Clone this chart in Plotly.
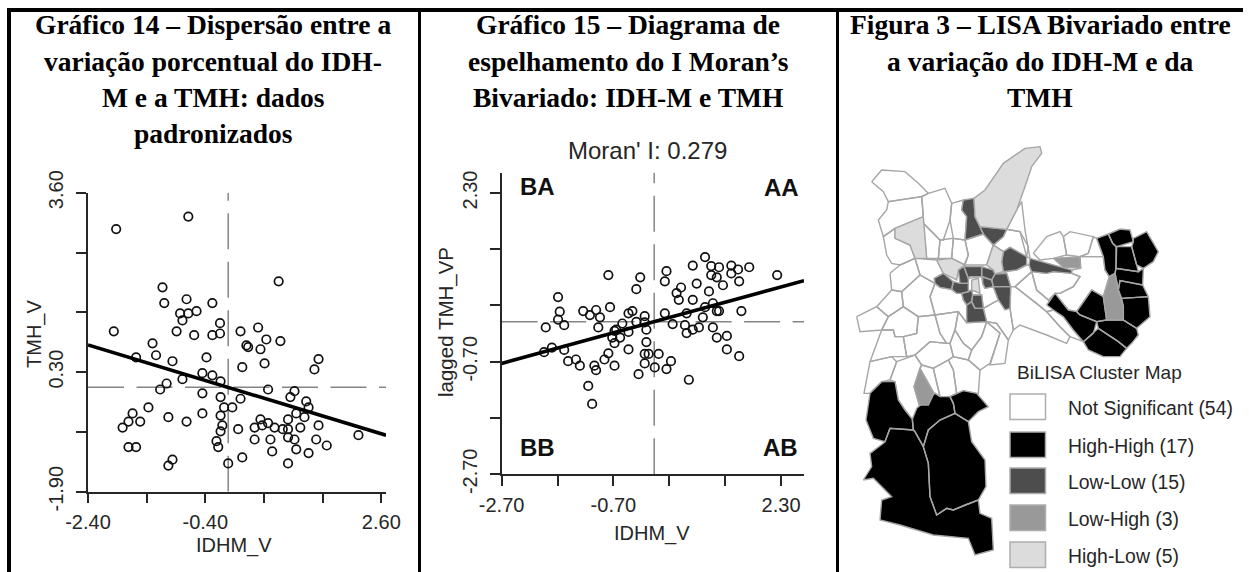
import plotly.graph_objects as go

W, H = 1249, 572

def xf(px):
    return px / W

def yf(py):
    return 1 - py / H

# ---- Gráfico 14 data ----
idhm_v = [-1.92,-0.69,0.85,-1.13,-1.10,-0.72,-0.28,-0.83,-0.69,-0.55,-0.79,-0.15,-1.96,-0.89,-0.59,-0.28,-0.15,0.20,0.50,-1.30,
          0.64,0.88,0.30,0.33,0.54,-1.24,-1.58,-0.38,-0.96,1.53,0.61,0.23,1.46,-0.45,-0.28,-0.79,-0.14,-1.06,-1.17,0.67,
          1.12,-0.45,1.05,-0.14,0.20,1.32,-1.37,-0.08,0.06,1.36,-1.64,-0.45,-0.14,1.15,-1.03,1.29,0.54,-1.71,-1.51,-0.72,
          1.01,0.67,-1.81,-0.11,1.53,0.44,0.57,0.78,1.22,0.16,0.92,1.01,-0.14,2.21,0.44,0.71,1.01,1.12,1.49,-0.21,
          1.67,-1.71,-1.58,-0.18,1.15,0.74,1.36,-0.96,0.23,-1.03,-0.01,1.01]
tmh_v = [2.93,3.16,1.97,1.86,1.57,1.64,1.57,1.38,1.38,1.42,1.25,1.20,1.05,1.05,0.98,0.98,1.01,1.05,1.12,0.83,
         0.90,0.87,0.79,0.76,0.72,0.61,0.57,0.57,0.50,0.54,0.46,0.39,0.35,0.28,0.24,0.17,0.13,0.09,-0.02,-0.02,
         -0.05,-0.09,-0.16,-0.16,-0.19,-0.24,-0.35,-0.35,-0.35,-0.35,-0.46,-0.46,-0.50,-0.46,-0.53,-0.53,-0.57,-0.61,-0.61,-0.61,
         -0.57,-0.64,-0.72,-0.68,-0.68,-0.72,-0.68,-0.72,-0.72,-0.75,-0.75,-0.75,-0.79,-0.86,-0.94,-0.94,-0.90,-0.94,-0.94,-0.97,
         -1.05,-1.08,-1.08,-1.08,-1.12,-1.16,-1.19,-1.31,-1.27,-1.42,-1.38,-1.38]
fit1_x = [-2.40, 2.68]
fit1_y = [0.80, -0.86]
mean1_x = -0.01
mean1_y = 0.02
x1_ticks = [-2.4, -1.4, -0.4, 0.6, 1.6, 2.6]
x1_labels = ["-2.40", "", "-0.40", "", "", "2.60"]
y1_ticks = [-1.9, -0.8, 0.3, 1.4, 2.5, 3.6]
y1_labels = ["-1.90", "", "0.30", "", "", "3.60"]

# ---- Gráfico 15 data ----
idhm_v2 = [0.94,0.72,1.05,1.19,1.41,1.53,1.73,2.23,0.25,1.05,1.15,1.41,1.26,1.55,0.79,0.22,0.51,-0.22,-0.79,-0.29,
           0.43,1.01,-1.69,0.47,0.72,1.08,-0.76,0.94,-1.01,1.15,1.19,1.59,-1.24,-1.66,-0.36,-0.43,-1.12,0.22,0.61,-0.14,
           -0.94,-1.69,0.90,-0.54,-0.14,0.36,-1.58,-1.91,-0.97,0.58,1.08,0.83,0.72,0.61,-0.11,-0.68,-0.43,-0.58,1.33,1.15,
           -0.72,-0.11,-0.68,-0.43,-1.58,-1.80,-1.94,1.33,-0.79,-0.14,-0.07,0.11,1.55,-0.86,-1.51,-1.37,0.33,-0.14,-1.30,-1.04,
           -0.68,-1.01,0.04,0.25,-0.25,0.65,-1.15,-1.08,-0.29,-0.65]
lag_tmh = [1.16,1.01,1.00,0.98,1.01,0.94,0.98,0.84,0.91,0.84,0.80,0.87,0.66,0.73,0.69,0.73,0.62,0.80,0.84,0.59,
           0.52,0.55,0.45,0.40,0.40,0.34,0.27,0.27,0.22,0.20,0.20,0.20,0.20,0.19,0.20,0.16,0.13,0.16,0.16,0.11,
           0.09,0.05,0.09,-0.02,0.00,-0.03,-0.05,-0.09,-0.09,-0.05,-0.09,-0.09,-0.13,-0.19,-0.13,-0.15,-0.17,-0.27,-0.24,-0.27,
           -0.27,-0.35,-0.37,-0.48,-0.49,-0.45,-0.53,-0.48,-0.55,-0.56,-0.56,-0.56,-0.60,-0.66,-0.69,-0.66,-0.69,-0.73,-0.77,-0.77,
           -0.77,-0.85,-0.80,-0.83,-0.92,-1.02,-1.13,-1.45,0.01,-0.13]
fit2_x = [-2.70, 2.71]
fit2_y = [-0.73, 0.74]
mean2_x = 0.03
mean2_y = 0.01
x2_ticks = [-2.7, -1.7, -0.7, 0.3, 1.3, 2.3]
x2_labels = ["-2.70", "", "-0.70", "", "", "2.30"]
y2_ticks = [-2.7, -1.7, -0.7, 0.3, 1.3, 2.3]
y2_labels = ["-2.70", "", "-0.70", "", "", "2.30"]

# ---- Figura 3: municipality outlines, map units ----
not_significant = [
    [(95,155),(125,120),(195,125),(235,160),(265,190),(245,200),(145,215),(130,185)],
    [(145,215),(245,200),(250,260),(165,295),(130,320),(115,270),(140,240)],
    [(245,200),(265,190),(315,175),(335,220),(330,270),(310,330),(300,330),(250,280),(250,260)],
    [(335,220),(370,210),(365,240),(380,260),(375,330),(340,325),(330,270)],
    [(130,320),(165,295),(165,325),(210,345),(225,385),(180,405),(155,400),(140,375)],
    [(250,280),(300,330),(295,385),(260,385)],
    [(300,330),(340,325),(335,385),(295,385)],
    [(340,325),(375,330),(385,375),(375,405),(335,385)],
    [(375,330),(430,312),(460,345),(440,405),(372,405),(385,375)],
    [(490,320),(500,298),(540,305),(565,350),(560,380),(510,352),(490,365),(460,345)],
    [(530,240),(545,215),(555,300),(570,385),(560,380),(540,305),(500,298)],
    [(225,385),(290,390),(310,430),(283,445),(285,460),(240,435)],
    [(150,430),(180,405),(225,385),(240,435),(185,485),(155,480)],
    [(110,530),(155,480),(185,485),(190,530),(145,560)],
    [(50,560),(110,530),(145,560),(135,580),(125,600),(60,605)],
    [(185,485),(240,435),(285,460),(270,500),(285,555),(235,560),(190,530)],
    [(135,580),(145,560),(190,530),(235,560),(230,610),(190,620),(165,620),(160,600),(125,600)],
    [(285,460),(300,472),(335,478),(350,490),(365,490),(370,510),(380,525),(380,578),(355,545),(285,555),(270,500)],
    [(90,695),(125,600),(160,600),(165,620),(190,620),(200,680),(155,680)],
    [(90,695),(155,680),(170,695),(150,750),(125,755),(90,790),(72,790)],
    [(200,680),(190,620),(230,610),(235,560),(285,555),(300,610),(320,640),(270,635),(225,675)],
    [(285,555),(355,545),(345,600),(330,640),(320,640),(300,610)],
    [(355,545),(380,578),(440,575),(425,620),(395,660),(370,640),(345,600)],
    [(330,640),(345,600),(370,640),(395,660),(385,690),(340,680)],
    [(225,675),(270,635),(320,640),(330,640),(340,680),(325,690),(280,715),(245,705)],
    [(170,695),(225,675),(245,705),(240,715),(222,770),(238,825),(217,868),(195,840),(175,810),(165,755),(150,750)],
    [(245,705),(280,715),(300,800),(285,790),(265,825),(282,790),(240,715)],
    [(280,715),(325,690),(340,720),(350,790),(330,800),(300,800)],
    [(325,690),(340,680),(385,690),(420,720),(415,790),(410,790),(370,782),(330,800),(350,790),(340,720)],
    [(385,690),(395,660),(425,620),(440,575),(480,610),(450,700),(420,720)],
    [(440,575),(470,580),(505,630),(495,700),(450,705),(480,610)],
    [(430,535),(475,510),(510,535),(520,600),(505,630),(470,580),(440,575)],
    [(385,445),(425,440),(428,460),(435,475),(460,470),(475,510),(430,535),(425,495),(398,495),(395,480),(385,485),(385,460)],
    [(490,425),(530,420),(560,405),(567,405),(575,425),(525,470),(512,470),(500,430)],
    [(525,470),(575,425),(590,480),(625,510),(640,540),(620,545),(590,520)],
    [(575,425),(620,430),(640,425),(695,430),(720,440),(700,470),(660,490),(645,490),(625,510),(590,480)],
    [(510,535),(512,470),(525,470),(590,520),(620,545),(660,590),(690,620),(680,640),(620,615),(540,585),(520,600)],
    [(620,545),(640,540),(670,560),(700,600),(730,635),(690,620),(660,590)],
    [(580,370),(620,320),(660,305),(670,320),(680,375),(640,385),(600,390)],
    [(670,320),(690,305),(760,320),(745,370),(720,380),(680,375)],
    [(745,370),(760,320),(770,325),(790,380),(720,380)],
    [(722,415),(720,380),(790,380),(795,420),(808,440),(790,500),(755,480),(710,545),(685,540),(645,490),(660,490),(700,470),(720,440),(695,430),(695,420)],
]
high_high = [
    [(770,325),(805,312),(818,340),(828,350),(828,415),(825,430),(808,440),(795,420),(790,380)],
    [(805,312),(840,297),(870,300),(880,335),(830,350),(818,340)],
    [(880,335),(880,325),(920,305),(935,330),(955,365),(940,395),(910,415),(890,405),(875,350)],
    [(830,350),(875,350),(890,405),(895,425),(828,415)],
    [(825,430),(828,415),(895,425),(910,415),(908,465),(840,452),(835,480)],
    [(835,480),(840,452),(908,465),(925,500),(845,505)],
    [(845,505),(925,500),(930,560),(890,595),(850,570),(850,530)],
    [(710,545),(755,480),(790,500),(800,570),(770,575),(720,555)],
    [(620,525),(645,490),(685,540),(710,545),(720,555),(770,575),(760,610),(730,635),(700,600),(670,560),(640,540)],
    [(770,575),(800,570),(850,570),(890,595),(895,615),(875,640),(860,655),(835,635),(775,595)],
    [(730,635),(760,610),(775,595),(835,635),(860,655),(840,680),(790,680),(745,660)],
    [(90,790),(125,755),(165,755),(175,810),(195,840),(217,868),(220,900),(150,895),(135,935),(100,925),(78,870),(85,820)],
    [(217,868),(230,835),(285,790),(300,800),(330,800),(340,820),(345,850),(300,870),(265,900),(250,950),(225,905),(220,900)],
    [(330,800),(370,782),(410,790),(445,830),(415,845),(385,875),(345,850),(340,820)],
    [(345,850),(385,875),(395,935),(435,990),(438,1070),(415,1110),(375,1125),(340,1140),(320,1135),(290,1155),(270,1100),(265,1000),(250,950),(265,900),(300,870)],
    [(150,895),(220,900),(225,905),(250,950),(265,1000),(270,1100),(290,1155),(320,1135),(340,1140),(375,1125),(415,1110),(420,1150),(455,1165),(460,1260),(405,1275),(385,1225),(280,1215),(180,1185),(120,1170),(125,1110),(155,1100),(100,1045),(70,1050),(95,1010),(90,970),(130,940),(135,935)],
]
low_low = [
    [(370,210),(402,205),(405,260),(420,290),(430,312),(375,330),(380,260),(365,240)],
    [(420,290),(500,298),(490,320),(460,345),(430,312)],
    [(490,365),(510,352),(560,380),(560,405),(530,420),(490,425),(485,395)],
    [(570,385),(640,405),(695,420),(695,430),(640,425),(620,430),(575,425),(567,405)],
    [(283,445),(310,430),(340,455),(335,478),(300,472),(285,460)],
    [(335,478),(340,455),(360,460),(385,460),(385,485),(365,490),(350,490)],
    [(355,420),(372,410),(385,445),(385,460),(360,460)],
    [(372,410),(425,410),(425,440),(390,440),(385,445)],
    [(425,410),(460,420),(465,432),(455,450),(425,440)],
    [(428,440),(455,450),(460,470),(435,475),(428,460)],
    [(465,432),(500,430),(512,470),(460,470),(455,450)],
    [(460,470),(512,470),(510,535),(495,540),(475,510)],
    [(365,490),(385,485),(395,480),(398,495),(395,515),(380,525),(370,510)],
    [(398,495),(425,495),(430,535),(405,535),(395,515)],
    [(380,525),(395,515),(405,535),(430,535),(440,575),(380,578)],
]
low_high = [
    [(640,385),(720,380),(722,415),(670,412)],
    [(808,440),(825,430),(835,480),(850,530),(850,570),(800,570),(790,500)],
    [(222,770),(240,715),(282,790),(265,825),(238,825)],
]
high_low = [
    [(555,55),(600,50),(605,70),(575,110),(555,170),(530,240),(500,298),(420,290),(405,260),(402,205),(435,180),(470,130),(490,100)],
    [(165,295),(250,260),(260,385),(225,385),(210,345),(165,325)],
    [(290,390),(335,385),(375,405),(355,420),(350,450),(310,430)],
    [(440,405),(460,345),(490,365),(485,395),(490,425),(465,432),(460,420)],
    [(395,450),(415,445),(420,490),(395,480)],
]
map_classes = [
    ("Not Significant (54)", not_significant, "#ffffff"),
    ("High-High (17)", high_high, "#000000"),
    ("Low-Low (15)", low_low, "#4d4d4d"),
    ("Low-High (3)", low_high, "#999999"),
    ("High-Low (5)", high_low, "#dcdcdc"),
]

# ---- page text ----
title_lines_1 = ["Gráfico 14 – Dispersão entre a", "variação porcentual do IDH-", "M e a TMH: dados", "padronizados"]
title_lines_2 = ["Gráfico 15 – Diagrama de", "espelhamento do I Moran’s", "Bivariado: IDH-M e TMH"]
title_lines_3 = ["Figura 3 – LISA Bivariado entre", "a variação do IDH-M e da", "TMH"]
title_line_y = [24, 61, 97, 133]

INK = "#262626"
SANS = "Liberation Sans, Arial, sans-serif"
SERIF = "Liberation Serif, serif"

fig = go.Figure()

def scatter_panel(xs, ys, fx, fy, mx, my, xa, ya, x_lo, x_hi, y_lo, y_hi):
    grey = dict(color="#858585", width=1.5, dash="36px,12.5px")
    fig.add_trace(go.Scatter(x=[x_lo, x_hi], y=[my, my], mode="lines", line=grey, xaxis=xa, yaxis=ya, hoverinfo="skip"))
    fig.add_trace(go.Scatter(x=[mx, mx], y=[y_lo, y_hi], mode="lines", line=grey, xaxis=xa, yaxis=ya, hoverinfo="skip"))
    fig.add_trace(go.Scatter(x=xs, y=ys, mode="markers", xaxis=xa, yaxis=ya,
                             marker=dict(symbol="circle-open", size=8.5, color="#111111", line=dict(width=1.7, color="#111111"))))
    fig.add_trace(go.Scatter(x=fx, y=fy, mode="lines", line=dict(color="#000000", width=3.6), xaxis=xa, yaxis=ya, hoverinfo="skip"))

X1_LO, X1_HI, Y1_LO, Y1_HI = -2.40, 2.68, -1.90, 3.60
X2_LO, X2_HI, Y2_LO, Y2_HI = -2.70, 2.71, -2.70, 2.66
scatter_panel(idhm_v, tmh_v, fit1_x, fit1_y, mean1_x, mean1_y, "x", "y", X1_LO, X1_HI, Y1_LO, Y1_HI)
scatter_panel(idhm_v2, lag_tmh, fit2_x, fit2_y, mean2_x, mean2_y, "x2", "y2", X2_LO, X2_HI, Y2_LO, Y2_HI)

for name, polys, colour in map_classes:
    xs, ys = [], []
    for poly in polys:
        xs += [p[0] for p in poly] + [poly[0][0], None]
        ys += [p[1] for p in poly] + [poly[0][1], None]
    fig.add_trace(go.Scatter(x=xs, y=ys, mode="lines", fill="toself", fillcolor=colour, name=name,
                             line=dict(color="#a6a6a6", width=1.4), xaxis="x3", yaxis="y3", hoverinfo="skip"))

def axis(ticks, labels, rng, domain, anchor, angle=0, standoff=0):
    return dict(range=rng, domain=domain, anchor=anchor, tickmode="array", tickvals=ticks, ticktext=labels,
                ticks="outside", ticklen=10, tickwidth=1.5, tickcolor=INK, showline=True, linecolor=INK, linewidth=1.5,
                showgrid=False, zeroline=False, tickangle=angle, tickfont=dict(family=SANS, size=20, color=INK),
                ticklabelstandoff=standoff, automargin=False)

shapes = []
def block(x0, y0, x1, y1, fill="#000000", line=None):
    shapes.append(dict(type="rect", xref="paper", yref="paper", x0=xf(x0), x1=xf(x1), y0=yf(y0), y1=yf(y1),
                       fillcolor=fill, line=dict(width=1.5 if line else 0, color=line or fill)))

block(7, 8, 1243, 12)
block(7, 8, 11, 572)
block(418, 8, 421, 572)
block(836, 8, 839, 572)

legend_boxes = [(394, "#ffffff"), (432, "#000000"), (468, "#4d4d4d"), (505, "#999999"), (542, "#dcdcdc")]
legend_rows = [408, 446, 482, 519, 556]
for top, colour in legend_boxes:
    block(1010, top, 1045.5, top + 25.5, colour, "#adadad")

annotations = []
def note(text, px, py, size, colour=INK, family=SANS, angle=0, anchor="center"):
    annotations.append(dict(text=text, x=xf(px), y=yf(py), xref="paper", yref="paper", showarrow=False,
                            xanchor=anchor, yanchor="middle", textangle=angle,
                            font=dict(family=family, size=size, color=colour)))

for cx, lines in ((213, title_lines_1), (628, title_lines_2), (1040, title_lines_3)):
    for line, y in zip(lines, title_line_y):
        note("<b>%s</b>" % line, cx, y, 27.5, "#000000", SERIF)

note("IDHM_V", 234, 545, 20)
note("TMH_V", 34, 334, 20, angle=-90)
note("IDHM_V", 652, 533, 20)
note("lagged TMH_VP", 446, 322, 20.5, angle=-90)
note("Moran' I: 0.279", 647, 150, 24)
note("<b>BA</b>", 537, 187, 24, "#111111")
note("<b>AA</b>", 782, 188, 24, "#111111")
note("<b>BB</b>", 537, 447, 24, "#111111")
note("<b>AB</b>", 780, 447, 24, "#111111")
note("BiLISA Cluster Map", 1015, 372, 19, anchor="left")
for (name, _, _), y in zip(map_classes, legend_rows):
    note(name, 1066, y, 19.4, anchor="left")

fig.update_layout(
    width=W, height=H, margin=dict(l=0, r=0, t=0, b=0, autoexpand=False), showlegend=False,
    paper_bgcolor="#ffffff", plot_bgcolor="rgba(0,0,0,0)", shapes=shapes, annotations=annotations,
    xaxis=axis(x1_ticks, x1_labels, [X1_LO, X1_HI], [xf(88), xf(386)], "y", standoff=2),
    yaxis=axis(y1_ticks, y1_labels, [Y1_LO, Y1_HI], [yf(491.7), yf(192.7)], "x", angle=-90, standoff=5),
    xaxis2=axis(x2_ticks, x2_labels, [X2_LO, X2_HI], [xf(501.6), xf(804)], "y2", standoff=2),
    yaxis2=axis(y2_ticks, y2_labels, [Y2_LO, Y2_HI], [yf(474.3), yf(172.7)], "x2", angle=-90, standoff=5),
    xaxis3=dict(range=[0, 1227], domain=[xf(840), 1], anchor="y3", visible=False),
    yaxis3=dict(range=[1326, 0], domain=[0, yf(130)], anchor="x3", visible=False),
)

fig.write_html("out.html", config={"displayModeBar": False},
               post_script="document.body.style.margin='0';document.body.style.overflow='hidden';")
